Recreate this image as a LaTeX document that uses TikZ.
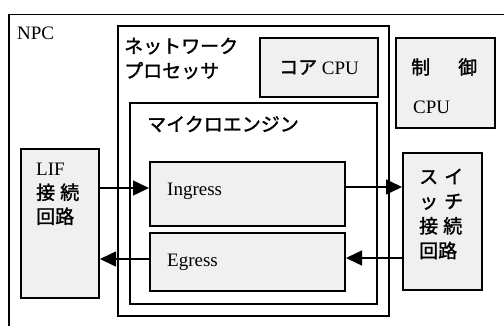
\documentclass[tikz,border=0pt]{standalone}
\usepackage{fontspec}
\setmainfont{Liberation Serif}
\newfontfamily\jp[FakeBold=1.5]{Noto Sans CJK JP}
\usetikzlibrary{arrows.meta}
\begin{document}
\begin{tikzpicture}[x=1pt,y=-1pt,
  openbox/.style={draw=black, line width=1.5pt, inner sep=0pt},
  graybox/.style={draw=black, line width=2pt, fill=gray!12, inner sep=0pt},
  lbl/.style={inner sep=0pt, anchor=west, font=\fontsize{19}{24}\selectfont},
  jlbl/.style={inner sep=0pt, anchor=west, font=\jp\fontsize{19}{24.7}\selectfont},
  flow/.style={line width=1.5pt, -{Triangle[length=16pt,width=15pt]}}]
\useasboundingbox (0,0) rectangle (504,325);

% outer NPC frame (continues past the page on the right and bottom)
\node[openbox, minimum width=530, minimum height=340, anchor=north west] (npc) at (8,13.5) {};
\node[lbl] (npclbl) at (17,33) {NPC};

% network processor and its contents
\node[openbox, minimum width=271, minimum height=290] (np) at (253.5,171) {};
\node[jlbl, align=left] (nplbl) at (124,58.5) {ネットワーク\\プロセッサ};
\node[graybox, minimum width=118, minimum height=59] (core) at (319,67.5) {};
\node[lbl] (corelbl) at (core.center) [anchor=center] {{\jp\fontsize{19}{24}\selectfont コア} CPU};

\node[openbox, minimum width=247, minimum height=201] (me) at (253.5,203.5) {};
\node[jlbl] (melbl) at (147,124) {マイクロエンジン};

\node[graybox, minimum width=195, minimum height=64] (ing) at (247.5,194) {};
\node[lbl] (inglbl) at (167,191) {Ingress};
\node[graybox, minimum width=195, minimum height=58] (eg) at (247.5,262) {};
\node[lbl] (eglbl) at (167,262) {Egress};

% control CPU
\node[graybox, minimum width=99, minimum height=90] (ctrl) at (445.5,83) {};
\node[jlbl] (ctrl1) at (411,67) {制\hspace{28pt}御};
\node[lbl] (ctrl2) at (413,107) {CPU};

% switch interface circuit
\node[graybox, minimum width=79, minimum height=137] (sw) at (442.5,221.5) {};
\node[jlbl, align=left] (swlbl) at (419,214) {ス\hspace{6pt}イ\\ッ\hspace{6pt}チ\\接\hspace{5pt}続\\回路};

% LIF interface circuit
\node[graybox, minimum width=78, minimum height=149] (lif) at (60,223.5) {};
\node[lbl, align=left] (liflbl) at (36,194) {LIF\\{\jp\fontsize{19}{24}\selectfont 接\hspace{5pt}続}\\{\jp\fontsize{19}{24}\selectfont 回路}};

% data paths
\coordinate (inA) at ([yshift=6pt]ing.west);
\draw[flow] (inA -| lif.east) -- (inA);
\coordinate (inB) at ([yshift=7pt]ing.east);
\draw[flow] (inB) -- (inB -| sw.west);
\coordinate (egA) at ([yshift=4pt]eg.east);
\draw[flow] (egA -| sw.west) -- (egA);
\coordinate (egB) at ([yshift=3pt]eg.west);
\draw[flow] (egB) -- (egB -| lif.east);
\end{tikzpicture}
\end{document}
